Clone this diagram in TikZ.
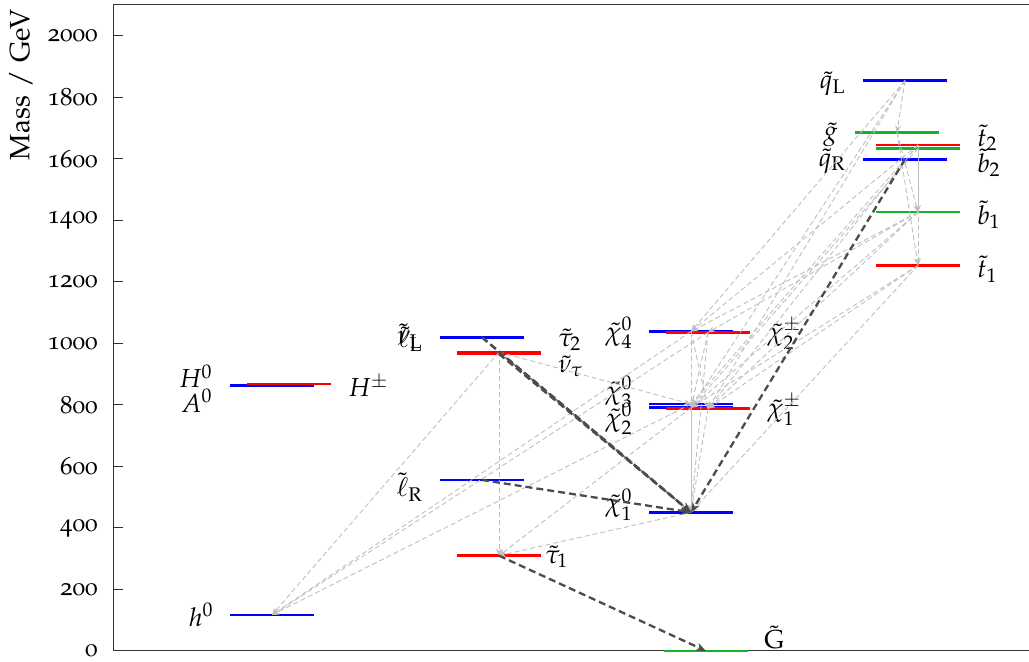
\documentclass[tikz,border=0pt]{standalone}
\usepackage[T1]{fontenc}
\usepackage[osf]{mathpazo}
\usetikzlibrary{arrows.meta}

\definecolor{lvlgreen}{RGB}{20,180,40}

\tikzset{
  lvl/.style={line width=1.3pt},
  lbl/.style={font=\fontsize{13}{15}\selectfont, inner sep=0pt},
  ticklbl/.style={font=\fontsize{12.5}{14}\selectfont, inner sep=0pt, anchor=east},
  weak/.style={draw=gray!50, line width=0.45pt, dash pattern=on 2.5pt off 1.5pt, -{Stealth[length=3.5pt,width=3pt]}},
  mid/.style={draw=gray, line width=0.8pt, dash pattern=on 3pt off 1pt, -{Stealth[length=4.5pt,width=3.5pt]}},
  strong/.style={draw=black!70, line width=1.15pt, dash pattern=on 3.5pt off 2pt, -{Stealth[length=5pt,width=4pt]}},
}

\begin{document}
\begin{tikzpicture}[x=0.5pt, y=0.15375pt]
\useasboundingbox (0,-35.77) rectangle (1029,2117.07);

% axis
\draw[black!80, line width=0.5pt] (1029,2101) -- (113,2101) -- (113,0) -- (1029,0);
\foreach \m in {0,200,...,2000} {
  \draw[black!80, line width=0.5pt] (113,\m) -- (123,\m);
  \node[ticklbl] at (98,\m) {\m};
}
\node[rotate=90, font=\fontsize{14}{16}\selectfont] (ylab) at (21,1841) {Mass / GeV};

% higgs
\coordinate (h0) at (272,117);
\coordinate (A0) at (272,863);
\coordinate (Hpm) at (289,868);
\draw[lvl, blue] (230,117) -- (314,117);
\draw[lvl, blue] (230,863) -- (314,863);
\draw[lvl, red] (247,868) -- (331,868);
\node[lbl, anchor=east] (h0lab) at (214,117) {$h^0$};
\node[lbl, anchor=east] (H0lab) at (213,894) {$H^0$};
\node[lbl, anchor=east] (A0lab) at (213,813) {$A^0$};
\node[lbl, anchor=west] (Hpmlab) at (348,862) {$H^\pm$};

% sleptons
\coordinate (lL) at (482,1020);
\coordinate (nuL) at (482,1020);
\coordinate (stau2) at (499,972);
\coordinate (nutau) at (499,966);
\coordinate (lR) at (482,556);
\coordinate (stau1) at (499,310);
\draw[lvl, blue] (440,1020) -- (524,1020);
\draw[lvl, red] (457,972) -- (541,972);
\draw[lvl, red] (457,966) -- (541,966);
\draw[lvl, blue] (440,556) -- (524,556);
\draw[lvl, red] (457,310) -- (541,310);
\node[lbl, anchor=east] (lLlab) at (423,1018) {$\tilde{\ell}_\mathrm{L}$};
\node[lbl, anchor=east] (nuLlab) at (423,1018) {$\tilde{\nu}_\mathrm{L}$};
\node[lbl, anchor=west] (stau2lab) at (558,1011) {$\tilde{\tau}_2$};
\node[lbl, anchor=west] (nutaulab) at (558,927) {$\tilde{\nu}_\tau$};
\node[lbl, anchor=east] (lRlab) at (423,533) {$\tilde{\ell}_\mathrm{R}$};
\node[lbl, anchor=west] (stau1lab) at (545,306) {$\tilde{\tau}_1$};

% neutralinos, charginos, gravitino
\coordinate (N4) at (691,1039);
\coordinate (C2) at (708,1036);
\coordinate (N3) at (691,803);
\coordinate (N2) at (691,791);
\coordinate (C1) at (708,788);
\coordinate (N1) at (691,451);
\coordinate (Gr) at (706,0);
\draw[lvl, blue] (649,1039) -- (733,1039);
\draw[lvl, red] (666,1036) -- (750,1036);
\draw[lvl, blue] (649,803) -- (733,803);
\draw[lvl, blue] (649,791) -- (733,791);
\draw[lvl, red] (666,788) -- (750,788);
\draw[lvl, blue] (649,451) -- (733,451);
\draw[lvl, lvlgreen] (664,0) -- (748,0);
\node[lbl, anchor=east] (N4lab) at (633,1034) {$\tilde{\chi}^0_4$};
\node[lbl, anchor=east] (N3lab) at (633,842) {$\tilde{\chi}^0_3$};
\node[lbl, anchor=east] (N2lab) at (633,754) {$\tilde{\chi}^0_2$};
\node[lbl, anchor=east] (N1lab) at (633,475) {$\tilde{\chi}^0_1$};
\node[lbl, anchor=west] (C2lab) at (767,1031) {$\tilde{\chi}^\pm_2$};
\node[lbl, anchor=west] (C1lab) at (767,784) {$\tilde{\chi}^\pm_1$};
\node[lbl, anchor=west] (Grlab) at (764,45) {$\tilde{\mathrm{G}}$};

% squarks, gluino
\coordinate (qL) at (905,1855);
\coordinate (go) at (897,1686);
\coordinate (t2) at (918,1646);
\coordinate (b2) at (918,1634);
\coordinate (qR) at (905,1599);
\coordinate (b1) at (918,1427);
\coordinate (t1) at (918,1254);
\draw[lvl, blue] (863,1855) -- (947,1855);
\draw[lvl, lvlgreen] (855,1686) -- (939,1686);
\draw[lvl, red] (876,1646) -- (960,1646);
\draw[lvl, lvlgreen] (876,1634) -- (960,1634);
\draw[lvl, blue] (863,1599) -- (947,1599);
\draw[lvl, lvlgreen] (876,1427) -- (960,1427);
\draw[lvl, red] (876,1254) -- (960,1254);
\node[lbl, anchor=east] (qLlab) at (846,1844) {$\tilde{q}_\mathrm{L}$};
\node[lbl, anchor=east] (golab) at (838,1678) {$\tilde{g}$};
\node[lbl, anchor=east] (qRlab) at (846,1593) {$\tilde{q}_\mathrm{R}$};
\node[lbl, anchor=west] (t2lab) at (977,1668) {$\tilde{t}_2$};
\node[lbl, anchor=west] (b2lab) at (977,1587) {$\tilde{b}_2$};
\node[lbl, anchor=west] (b1lab) at (977,1418) {$\tilde{b}_1$};
\node[lbl, anchor=west] (t1lab) at (977,1242) {$\tilde{t}_1$};

% weak decays
\draw[weak] (stau2) -- (h0);
\draw[weak] (stau2) -- (stau1);
\draw[weak] (stau2) -- (N3);
\draw[weak] (N4) -- (h0);
\draw[weak] (C2) -- (h0);
\draw[weak] (N3) -- (h0);
\draw[weak] (N1) -- (stau1);
\draw[weak] (N2) -- (stau1);
\draw[weak] (N4) -- (N1);
\draw[weak] (C2) -- (N1);
\draw[weak] (N2) -- (N1);
\draw[weak] (C1) -- (N1);
\draw[weak] (N4) -- (C1);
\draw[weak] (C2) -- (N2);
\draw[weak] (qL) -- (go);
\draw[weak] (qL) -- (N4);
\draw[weak] (qL) -- (N2);
\draw[weak] (qL) -- (C1);
\draw[weak] (go) -- (b1);
\draw[weak] (go) -- (t1);
\draw[weak] (t2) -- (t1);
\draw[weak] (b2) -- (b1);
\draw[weak] (t2) -- (N4);
\draw[weak] (t2) -- (C1);
\draw[weak] (b2) -- (N2);
\draw[weak] (qR) -- (N3);
\draw[weak] (b1) -- (N4);
\draw[weak] (b1) -- (C2);
\draw[weak] (b1) -- (N2);
\draw[weak] (b1) -- (C1);
\draw[weak] (t1) -- (N2);
\draw[weak] (t1) -- (C1);
\draw[weak] (t1) -- (N1);

% strong decays
\draw[mid] (stau2) -- (N1);
\draw[strong] (lL) -- (N1);
\draw[strong] (nuL) -- (N1);
\draw[strong] (nutau) -- (N1);
\draw[strong] (lR) -- (N1);
\draw[strong] (stau1) -- (Gr);
\draw[strong] (qR) -- (N1);
\end{tikzpicture}
\end{document}
